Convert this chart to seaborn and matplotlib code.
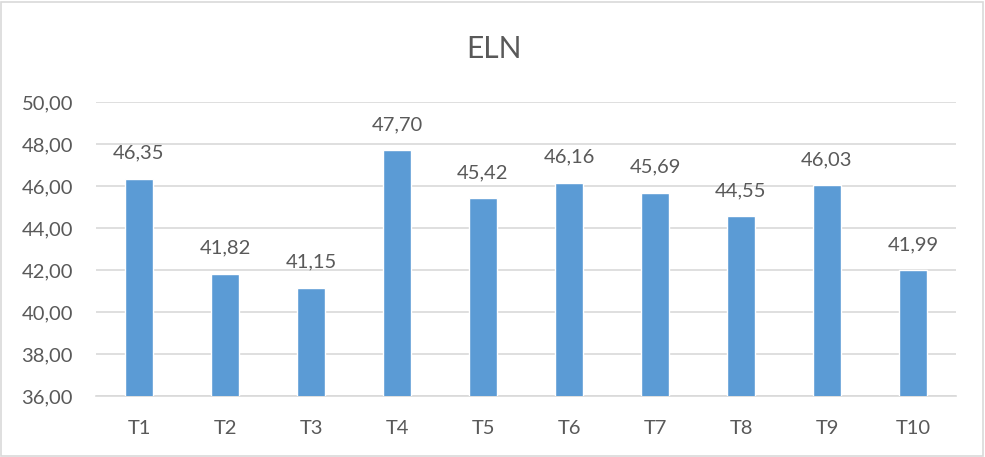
import matplotlib
matplotlib.use("Agg")
import matplotlib.pyplot as plt
import seaborn as sns
import pandas as pd
from matplotlib.ticker import FuncFormatter
from matplotlib.patches import Rectangle

categories = ["T1", "T2", "T3", "T4", "T5", "T6", "T7", "T8", "T9", "T10"]
values = [46.35, 41.82, 41.15, 47.70, 45.42, 46.16, 45.69, 44.55, 46.03, 41.99]
y_ticks = [36, 38, 40, 42, 44, 46, 48, 50]
title = "ELN"

sns.set_theme(style="white")
plt.rcParams["font.family"] = ["Lato", "DejaVu Sans"]

text_color = "#595959"
grid_color = "#D9D9D9"
bar_color = "#5B9BD5"
label_size = 14.5

df = pd.DataFrame({"cat": categories, "val": values})

fig = plt.figure(figsize=(9.85, 4.57), dpi=100)
ax = fig.add_axes([96 / 985, 1 - 396 / 457, (956 - 96) / 985, (396 - 102) / 457])

sns.barplot(data=df, x="cat", y="val", color=bar_color, saturation=1,
            width=0.315, ax=ax, zorder=3)

ax.set_ylim(36, 50)
ax.set_yticks(y_ticks)
ax.yaxis.set_major_formatter(FuncFormatter(lambda v, p: f"{v:.2f}".replace(".", ",")))
ax.grid(axis="y", color=grid_color, linewidth=1.2, zorder=0)
ax.set_axisbelow(True)
for side in ["top", "right", "left"]:
    ax.spines[side].set_visible(False)
ax.spines["bottom"].set_color(grid_color)
ax.spines["bottom"].set_linewidth(1.2)
ax.tick_params(axis="both", length=0, colors=text_color, labelsize=label_size)
ax.tick_params(axis="y", pad=16.5)
ax.tick_params(axis="x", pad=17)
ax.set_xlabel("")
ax.set_ylabel("")

for i, v in enumerate(values):
    ax.annotate(f"{v:.2f}".replace(".", ","), xy=(i, v), xytext=(0, 20),
                textcoords="offset pixels", ha="center", va="baseline",
                color=text_color, fontsize=label_size)

fig.text(494 / 985, 1 - 49 / 457, title, ha="center", va="center",
         color=text_color, fontsize=21.5)

fig.patches.append(Rectangle((1 / 985, 1 / 457), 982 / 985, 454 / 457,
                             transform=fig.transFigure, fill=False,
                             edgecolor=grid_color, linewidth=1.2))

fig.savefig("out.png", dpi=100)
